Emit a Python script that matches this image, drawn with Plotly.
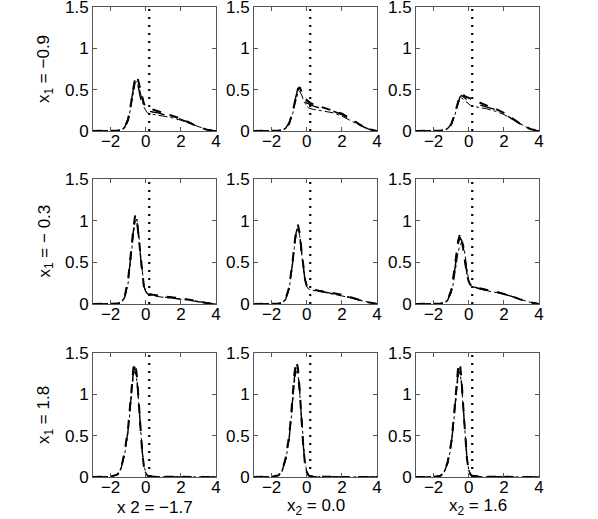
import plotly.graph_objects as go

# x grid shared by all density curves
x_grid = [-3, -2, -1.6, -1.4, -1.2, -1.0, -0.9, -0.8, -0.7, -0.6, -0.5, -0.4, -0.3, -0.2, -0.1,
          0.0, 0.1, 0.2, 0.4, 0.7, 1.0, 1.5, 2.0, 2.5, 3.0, 3.5, 4.0]

row_labels = ["x<sub>1</sub> = −0.9", "x<sub>1</sub> = − 0.3", "x<sub>1</sub> = 1.8"]
col_labels = ["x 2 = −1.7", "x<sub>2</sub> = 0.0", "x<sub>2</sub> = 1.6"]
x_ticks = [-2, 0, 2, 4]
y_ticks = [0, 0.5, 1, 1.5]
threshold_x = 0.2

# row 1 (x1 = -0.9)
d11_a = [0, 0, 0.005, 0.01, 0.04, 0.14, 0.25, 0.38, 0.52, 0.64, 0.67, 0.58, 0.48, 0.40, 0.33, 0.30, 0.28, 0.27, 0.26, 0.24, 0.22, 0.19, 0.15, 0.10, 0.05, 0.015, 0]
d11_b = [0, 0, 0.005, 0.01, 0.035, 0.12, 0.22, 0.34, 0.47, 0.58, 0.60, 0.55, 0.46, 0.37, 0.29, 0.25, 0.22, 0.21, 0.20, 0.19, 0.18, 0.16, 0.13, 0.09, 0.05, 0.015, 0]
d11_c = [0, 0, 0.005, 0.012, 0.045, 0.15, 0.27, 0.40, 0.54, 0.63, 0.62, 0.50, 0.40, 0.33, 0.29, 0.27, 0.25, 0.24, 0.23, 0.22, 0.20, 0.18, 0.14, 0.10, 0.05, 0.015, 0]
d12_a = [0, 0, 0.005, 0.01, 0.03, 0.09, 0.15, 0.23, 0.33, 0.42, 0.50, 0.53, 0.46, 0.42, 0.39, 0.37, 0.35, 0.34, 0.32, 0.30, 0.28, 0.25, 0.21, 0.15, 0.08, 0.025, 0]
d12_b = [0, 0, 0.005, 0.01, 0.03, 0.08, 0.14, 0.21, 0.30, 0.38, 0.46, 0.48, 0.44, 0.38, 0.33, 0.30, 0.28, 0.27, 0.26, 0.25, 0.24, 0.22, 0.18, 0.13, 0.07, 0.02, 0]
d12_c = [0, 0, 0.005, 0.01, 0.035, 0.10, 0.16, 0.25, 0.35, 0.44, 0.52, 0.50, 0.45, 0.40, 0.37, 0.34, 0.33, 0.32, 0.30, 0.28, 0.27, 0.24, 0.20, 0.14, 0.075, 0.025, 0]
d13_a = [0, 0, 0.005, 0.01, 0.03, 0.08, 0.13, 0.20, 0.28, 0.36, 0.43, 0.45, 0.43, 0.42, 0.41, 0.40, 0.39, 0.38, 0.36, 0.33, 0.31, 0.27, 0.22, 0.15, 0.08, 0.025, 0]
d13_b = [0, 0, 0.005, 0.01, 0.03, 0.07, 0.12, 0.18, 0.26, 0.33, 0.39, 0.40, 0.38, 0.36, 0.34, 0.32, 0.31, 0.30, 0.29, 0.28, 0.27, 0.24, 0.20, 0.14, 0.07, 0.02, 0]
d13_c = [0, 0, 0.005, 0.01, 0.03, 0.08, 0.13, 0.19, 0.27, 0.35, 0.41, 0.43, 0.41, 0.39, 0.37, 0.36, 0.35, 0.34, 0.33, 0.31, 0.29, 0.26, 0.21, 0.14, 0.075, 0.02, 0]

# row 2 (x1 = -0.3)
d21_a = [0, 0, 0.005, 0.02, 0.08, 0.30, 0.48, 0.70, 0.92, 1.06, 1.00, 0.80, 0.55, 0.33, 0.20, 0.15, 0.13, 0.12, 0.11, 0.10, 0.09, 0.08, 0.07, 0.05, 0.03, 0.01, 0]
d21_b = [0, 0, 0.005, 0.02, 0.07, 0.25, 0.42, 0.63, 0.85, 0.98, 1.02, 0.85, 0.60, 0.38, 0.22, 0.15, 0.12, 0.11, 0.10, 0.09, 0.08, 0.07, 0.06, 0.045, 0.025, 0.01, 0]
d21_c = [0, 0, 0.005, 0.02, 0.075, 0.28, 0.45, 0.67, 0.88, 1.03, 1.01, 0.82, 0.58, 0.35, 0.21, 0.15, 0.125, 0.115, 0.105, 0.095, 0.085, 0.075, 0.065, 0.048, 0.028, 0.01, 0]
d22_a = [0, 0, 0.005, 0.015, 0.06, 0.20, 0.34, 0.52, 0.72, 0.88, 0.95, 0.85, 0.65, 0.45, 0.30, 0.22, 0.19, 0.18, 0.17, 0.16, 0.15, 0.13, 0.11, 0.08, 0.05, 0.02, 0]
d22_b = [0, 0, 0.005, 0.015, 0.05, 0.18, 0.31, 0.48, 0.68, 0.84, 0.92, 0.82, 0.62, 0.42, 0.28, 0.21, 0.18, 0.17, 0.16, 0.15, 0.14, 0.12, 0.10, 0.075, 0.045, 0.02, 0]
d22_c = [0, 0, 0.005, 0.015, 0.055, 0.19, 0.33, 0.50, 0.70, 0.86, 0.93, 0.84, 0.64, 0.44, 0.29, 0.215, 0.185, 0.175, 0.165, 0.155, 0.145, 0.125, 0.105, 0.078, 0.048, 0.02, 0]
d23_a = [0, 0, 0.005, 0.015, 0.05, 0.16, 0.28, 0.43, 0.60, 0.76, 0.84, 0.78, 0.64, 0.48, 0.35, 0.27, 0.23, 0.21, 0.20, 0.18, 0.17, 0.15, 0.12, 0.09, 0.05, 0.02, 0]
d23_b = [0, 0, 0.005, 0.01, 0.04, 0.13, 0.22, 0.35, 0.50, 0.63, 0.70, 0.74, 0.72, 0.58, 0.40, 0.28, 0.23, 0.21, 0.19, 0.18, 0.16, 0.14, 0.12, 0.085, 0.05, 0.02, 0]
d23_c = [0, 0, 0.005, 0.012, 0.045, 0.15, 0.25, 0.40, 0.56, 0.72, 0.80, 0.76, 0.66, 0.50, 0.36, 0.27, 0.23, 0.21, 0.195, 0.18, 0.165, 0.145, 0.12, 0.088, 0.05, 0.02, 0]

# row 3 (x1 = 1.8)
d31_a = [0, 0.005, 0.03, 0.11, 0.30, 0.60, 0.84, 1.10, 1.32, 1.38, 1.22, 0.92, 0.58, 0.30, 0.12, 0.04, 0.015, 0.01, 0.005, 0.003, 0.002, 0.002, 0.001, 0.001, 0, 0, 0]
d31_b = [0, 0.005, 0.025, 0.10, 0.27, 0.55, 0.78, 1.04, 1.24, 1.28, 1.16, 0.90, 0.58, 0.32, 0.14, 0.05, 0.02, 0.01, 0.005, 0.003, 0.002, 0.002, 0.001, 0.001, 0, 0, 0]
d31_c = [0, 0.005, 0.028, 0.105, 0.285, 0.57, 0.81, 1.07, 1.28, 1.33, 1.19, 0.91, 0.58, 0.31, 0.13, 0.045, 0.018, 0.01, 0.005, 0.003, 0.002, 0.002, 0.001, 0.001, 0, 0, 0]
d32_a = [0, 0.003, 0.02, 0.08, 0.23, 0.50, 0.72, 0.99, 1.25, 1.40, 1.32, 1.05, 0.70, 0.38, 0.16, 0.06, 0.02, 0.01, 0.005, 0.003, 0.002, 0.002, 0.001, 0.001, 0, 0, 0]
d32_b = [0, 0.003, 0.018, 0.07, 0.20, 0.45, 0.66, 0.91, 1.15, 1.28, 1.25, 1.02, 0.70, 0.40, 0.18, 0.07, 0.025, 0.01, 0.005, 0.003, 0.002, 0.002, 0.001, 0.001, 0, 0, 0]
d32_c = [0, 0.003, 0.019, 0.075, 0.215, 0.47, 0.69, 0.95, 1.20, 1.34, 1.29, 1.04, 0.70, 0.39, 0.17, 0.065, 0.022, 0.01, 0.005, 0.003, 0.002, 0.002, 0.001, 0.001, 0, 0, 0]
d33_a = [0, 0.002, 0.015, 0.06, 0.18, 0.41, 0.61, 0.86, 1.12, 1.33, 1.38, 1.15, 0.82, 0.48, 0.22, 0.08, 0.03, 0.015, 0.008, 0.004, 0.003, 0.002, 0.001, 0.001, 0, 0, 0]
d33_b = [0, 0.002, 0.013, 0.055, 0.16, 0.37, 0.56, 0.80, 1.04, 1.22, 1.28, 1.10, 0.80, 0.48, 0.23, 0.09, 0.035, 0.015, 0.008, 0.004, 0.003, 0.002, 0.001, 0.001, 0, 0, 0]
d33_c = [0, 0.002, 0.014, 0.058, 0.17, 0.39, 0.58, 0.83, 1.08, 1.28, 1.33, 1.12, 0.81, 0.48, 0.225, 0.085, 0.032, 0.015, 0.008, 0.004, 0.003, 0.002, 0.001, 0.001, 0, 0, 0]

panels = [
    [(d11_a, d11_b, d11_c), (d12_a, d12_b, d12_c), (d13_a, d13_b, d13_c)],
    [(d21_a, d21_b, d21_c), (d22_a, d22_b, d22_c), (d23_a, d23_b, d23_c)],
    [(d31_a, d31_b, d31_c), (d32_a, d32_b, d32_c), (d33_a, d33_b, d33_c)],
]

W, H = 598, 519
col_px = [(93, 216), (254, 377), (416, 539)]
row_px = [(7, 131), (179, 304), (353, 477)]

styles = [dict(dash="dash", width=2.0), dict(dash="dashdot", width=1.0), dict(dash="longdash", width=1.4)]

FAM = "Liberation Sans, Arial, Helvetica, sans-serif"
fig = go.Figure()
layout = dict(template="none", width=W, height=H, margin=dict(l=0, r=0, t=0, b=0, pad=0),
              autosize=False,
              paper_bgcolor="white", plot_bgcolor="white", showlegend=False,
              font=dict(family=FAM, size=17, color="black"))
annotations = []
FONT = dict(family=FAM, size=17, color="black")

for r in range(3):
    for c in range(3):
        k = r * 3 + c + 1
        xa = "x" if k == 1 else f"x{k}"
        ya = "y" if k == 1 else f"y{k}"
        for curve, st in zip(panels[r][c], styles):
            fig.add_trace(go.Scatter(x=x_grid, y=curve, mode="lines", xaxis=xa, yaxis=ya,
                                     line=dict(color="black", **st), hoverinfo="skip"))
        fig.add_trace(go.Scatter(x=[threshold_x, threshold_x], y=[0, 1.5], mode="lines",
                                 xaxis=xa, yaxis=ya,
                                 line=dict(color="black", dash="2px,6px", width=2.2)))
        x0, x1 = col_px[c]
        y0, y1 = row_px[r]
        axcommon = dict(showgrid=False, zeroline=False, showline=True, mirror="ticks",
                        automargin=False, ticklabeloverflow="allow",
                        linecolor="#555", linewidth=1, ticks="inside", ticklen=4,
                        tickcolor="#555", tickfont=dict(family=FAM, size=17, color="black"))
        layout["xaxis" if k == 1 else f"xaxis{k}"] = dict(
            domain=[x0 / W, x1 / W], range=[-3, 4], tickvals=x_ticks,
            anchor=ya, ticklabelstandoff=-5, **axcommon)
        layout["yaxis" if k == 1 else f"yaxis{k}"] = dict(
            domain=[1 - y1 / H, 1 - y0 / H], range=[0, 1.5], tickvals=y_ticks,
            ticktext=["0", "0.5", "1", "1.5"], anchor=xa, **axcommon)
    # row labels
    yc = 1 - (row_px[r][0] + row_px[r][1]) / 2 / H
    annotations.append(dict(text=row_labels[r], x=45 / W, y=yc, xref="paper", yref="paper",
                            textangle=-90, showarrow=False, font=FONT,
                            xanchor="center", yanchor="middle"))

for c in range(3):
    xc = (col_px[c][0] + col_px[c][1]) / 2 / W
    annotations.append(dict(text=col_labels[c], x=xc, y=1 - 507 / H, xref="paper", yref="paper",
                            showarrow=False, font=FONT, xanchor="center", yanchor="middle"))

layout["annotations"] = annotations
fig.update_layout(**layout)
fig.write_html("out.html", config={"displayModeBar": False},
               post_script="document.body.style.margin='0';")
